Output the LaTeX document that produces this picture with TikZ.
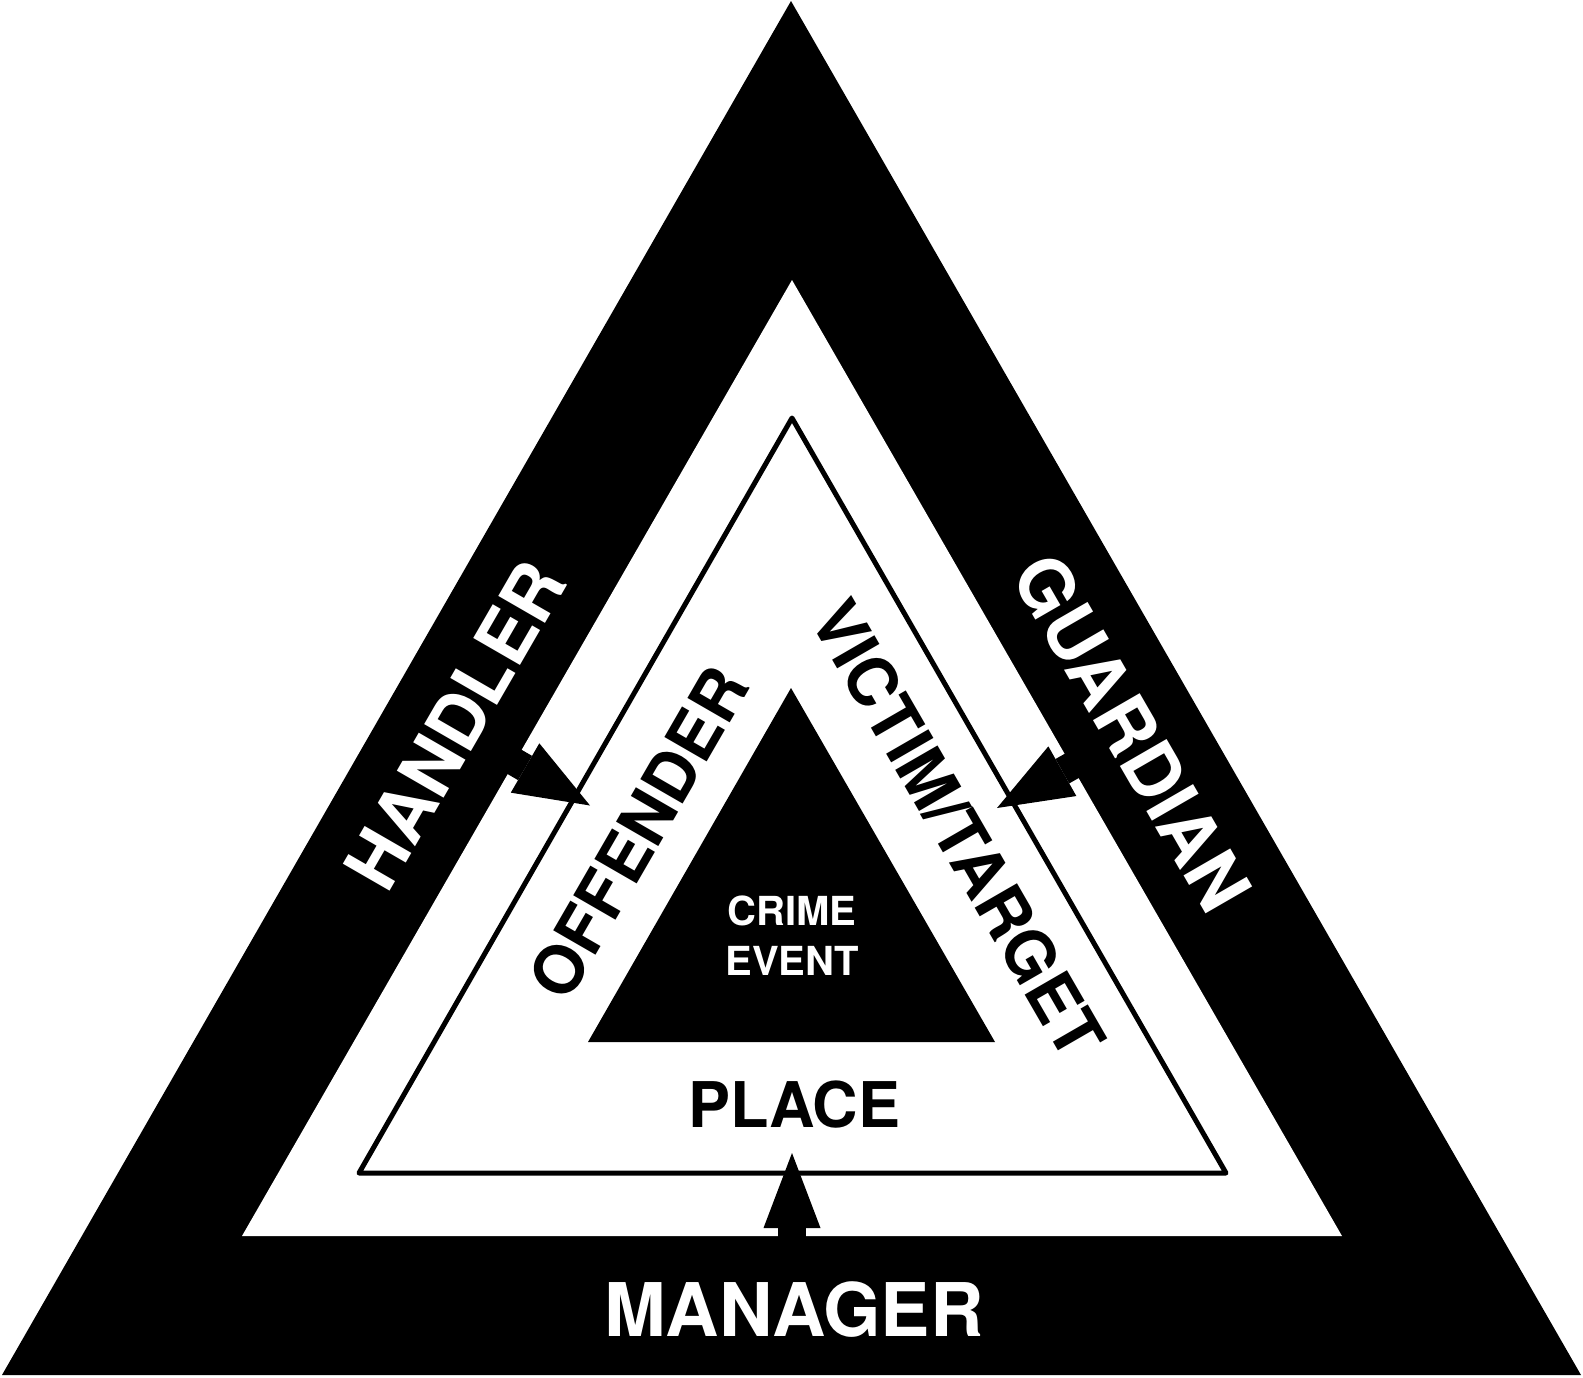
\documentclass[tikz,border=0pt]{standalone}
\usepackage{fontspec}
\setmainfont{TeX Gyre Heros}
\usetikzlibrary{arrows.meta}

\tikzset{
  band/.style={font=\bfseries\fontsize{74}{74}\selectfont, text=white, inner sep=0pt},
  ring/.style={font=\bfseries\fontsize{67}{67}\selectfont, text=black, inner sep=0pt},
  event/.style={font=\bfseries\fontsize{40}{50}\selectfont, text=white, inner sep=0pt, align=center},
  push/.style={line width=28pt, -{Triangle[width=57pt,length=75pt,line width=0pt]}},
}

\begin{document}
\begin{tikzpicture}[x=1pt, y=-1pt]
  \useasboundingbox (0,0) rectangle (1583,1377);

  % Define corners
  \coordinate (O1) at (2,1375);
  \coordinate (O2) at (791,1);
  \coordinate (O3) at (1581,1375);
  \coordinate (W1) at (242,1236);
  \coordinate (W2) at (792,280);
  \coordinate (W3) at (1342,1236);
  \coordinate (P1) at (359,1173);
  \coordinate (P2) at (792,418);
  \coordinate (P3) at (1226,1173);
  \coordinate (C1) at (588,1042);
  \coordinate (C2) at (791,688);
  \coordinate (C3) at (995,1042);

  % Fill the triangles
  \fill (O1) -- (O2) -- (O3) -- cycle;
  \fill[white] (W1) -- (W2) -- (W3) -- cycle;
  \draw[line width=5pt, line join=round] (P1) -- (P2) -- (P3) -- cycle;

  % Connect the layers
  \coordinate (hfoot) at (497.4,752);
  \coordinate (htip) at (590,805.5);
  \coordinate (gfoot) at (1091.1,755);
  \coordinate (gtip) at (997,808);
  \coordinate (mfoot) at (792,1256);
  \coordinate (mtip) at (792,1153);
  \draw[push] (hfoot) -- (htip);
  \draw[push] (gfoot) -- (gtip);
  \draw[push] (mfoot) -- (mtip);

  \fill (C1) -- (C2) -- (C3) -- cycle;

  % Define nodes
  \node[band, rotate=60] (handler) at (455,725) {HANDLER};
  \node[band, rotate=-60] (guardian) at (1132,733) {GUARDIAN};
  \node[band] (manager) at (794,1310) {MANAGER};
  \node[ring, rotate=60] (offender) at (638,833) {OFFENDER};
  \node[ring, rotate=-60] (target) at (958,829) {VICTIM/TARGET};
  \node[ring, font=\bfseries\fontsize{63}{63}\selectfont] (place) at (794,1105) {PLACE};
  \node[event] (crime) at (792,936) {CRIME\\EVENT};

\end{tikzpicture}
\end{document}
